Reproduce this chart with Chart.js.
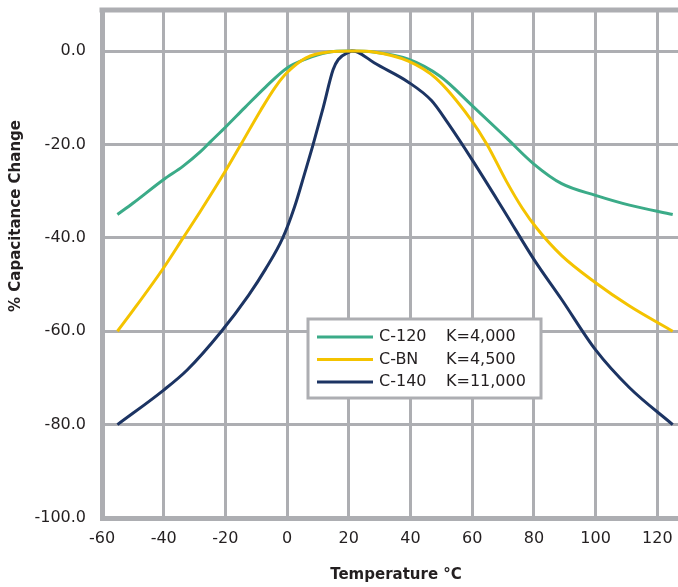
<!DOCTYPE html>
<html>
<head>
<meta charset="utf-8">
<script src="https://cdn.jsdelivr.net/npm/chart.js@4.4.1/dist/chart.umd.min.js"></script>
<style>
  html, body { margin: 0; padding: 0; background: #fff; overflow: hidden; }
  /* the plot runs off the right edge of the picture, like the original */
  #wrap { width: 678px; height: 587px; overflow: hidden; }
</style>
</head>
<body>
<div id="wrap"><canvas id="chart" width="690" height="587"></canvas></div>
<script>
// series labels
const seriesNames = ["C-120", "C-BN", "C-140"];
const seriesK = ["K=4,000", "K=4,500", "K=11,000"];

// C-120
const c120Temp = [-55, -50, -40, -33.8, -28, -24.8, -20, -13.7, -7, 0, 6, 13, 20, 28, 39.5, 49.6, 60.5, 71.1, 80, 89, 100, 111, 125];
const c120Change = [-35, -32.6, -27.5, -24.7, -21.5, -19.4, -16.3, -12.1, -7.7, -3.6, -1.7, -0.3, 0, -0.2, -1.8, -5.4, -12, -18.6, -24.2, -28.4, -30.9, -33, -35];

// C-BN
const cbnTemp = [-55, -50, -40, -33.7, -28, -20, -14.8, -8.5, -3.7, 0, 6, 13.5, 22, 28, 39.5, 48.2, 59.4, 64.8, 71.1, 76.2, 81, 89, 100, 111, 125];
const cbnChange = [-60, -55.6, -46.4, -40, -34.2, -25.7, -19.8, -12.6, -7.6, -4.6, -1.5, -0.2, 0, -0.2, -2.2, -5.8, -14.5, -20, -27.9, -33.6, -38, -43.8, -49.6, -54.6, -60];

// C-140
const c140Temp = [-55, -40, -32.4, -21.4, -12.5, -7, -1.4, 2.4, 5.6, 8.4, 11.7, 14.9, 16.6, 19.9, 21, 22.8, 28.2, 39.2, 46.8, 52.2, 60, 70.6, 80, 89, 100, 111, 125];
const c140Change = [-80, -72.6, -68.3, -60.1, -52.3, -46.7, -40, -33.4, -26.4, -20.1, -12.1, -4, -1.8, -0.3, 0, -0.2, -2.5, -6.6, -10.6, -15.5, -23.3, -34.5, -44.6, -53.2, -64, -72.1, -80];

// ticks
const xTicks = [-60, -40, -20, 0, 20, 40, 60, 80, 100, 120];
const yTicks = [0, -20, -40, -60, -80, -100];

const colors = ["#3bab88", "#f4c300", "#1c3463"];
const gridColor = "#adaeb2";
const textColor = "#231f20";
const FONT = "'DejaVu Sans', sans-serif";

const toPoints = (xs, ys) => xs.map((x, i) => ({ x: x, y: ys[i] }));

// top frame edge + legend box + rotated y title
const decorations = {
    id: "decorations",
    beforeDatasetsDraw(chart) {
        const { ctx, chartArea } = chart;
        ctx.save();
        ctx.strokeStyle = gridColor;
        ctx.lineWidth = 5;
        ctx.beginPath();
        ctx.moveTo(chartArea.left - 2.5, chartArea.top);
        ctx.lineTo(chartArea.right, chartArea.top);
        ctx.stroke();
        ctx.restore();
    },
    afterDatasetsDraw(chart) {
        const { ctx, chartArea } = chart;
        const bx = chartArea.left + 206, by = chartArea.top + 309;
        ctx.save();
        ctx.fillStyle = "#fff";
        ctx.fillRect(bx, by, 233, 79);
        ctx.strokeStyle = gridColor;
        ctx.lineWidth = 3;
        ctx.strokeRect(bx, by, 233, 79);
        ctx.font = "16px " + FONT;
        ctx.textBaseline = "middle";
        seriesNames.forEach((name, i) => {
            const y = by + 18 + i * 22.5;
            ctx.strokeStyle = colors[i];
            ctx.lineWidth = 3;
            ctx.beginPath();
            ctx.moveTo(bx + 9, y);
            ctx.lineTo(bx + 65, y);
            ctx.stroke();
            ctx.fillStyle = textColor;
            ctx.fillText(name, bx + 71, y);
            ctx.fillText(seriesK[i], bx + 138, y);
        });
        ctx.restore();
    },
    afterDraw(chart) {
        const { ctx } = chart;
        ctx.save();
        ctx.translate(16, 216);
        ctx.rotate(-Math.PI / 2);
        ctx.font = "bold 15px " + FONT;
        ctx.fillStyle = textColor;
        ctx.textAlign = "center";
        ctx.textBaseline = "middle";
        ctx.fillText("% Capacitance Change", 0, 0);
        ctx.restore();
    }
};

new Chart(document.getElementById("chart"), {
    type: "line",
    data: {
        datasets: [
            { label: seriesNames[0], data: toPoints(c120Temp, c120Change), borderColor: colors[0], order: 2 },
            { label: seriesNames[1], data: toPoints(cbnTemp, cbnChange), borderColor: colors[1], order: 0 },
            { label: seriesNames[2], data: toPoints(c140Temp, c140Change), borderColor: colors[2], order: 1 },
        ],
    },
    options: {
        responsive: false,
        animation: false,
        devicePixelRatio: 1,
        layout: { padding: { top: 10, right: 0, left: 0, bottom: 0 } },
        elements: {
            point: { radius: 0 },
            line: { borderWidth: 3, cubicInterpolationMode: "monotone", fill: false },
        },
        plugins: {
            legend: { display: false },
            tooltip: { enabled: false },
        },
        scales: {
            x: {
                type: "linear",
                min: -60,
                max: 130.6,
                afterFit: (scale) => {
                    scale.height = 69;
                    scale.paddingLeft = 0;
                    scale.paddingRight = 0;
                },
                afterBuildTicks: (scale) => { scale.ticks = xTicks.map((v) => ({ value: v })); },
                grid: { color: gridColor, lineWidth: 3, drawTicks: false },
                border: { color: gridColor, width: 5 },
                ticks: {
                    includeBounds: false,
                    padding: 11,
                    color: textColor,
                    font: { family: FONT, size: 16 },
                    maxRotation: 0,
                },
                title: {
                    display: true,
                    text: "Temperature °C",
                    color: textColor,
                    font: { family: FONT, size: 15, weight: "bold" },
                    padding: { top: 0, bottom: 3 },
                },
            },
            y: {
                min: -100,
                max: 8.8,
                afterFit: (scale) => {
                    scale.width = 102;
                    scale.paddingTop = 0;
                    scale.paddingBottom = 0;
                },
                afterBuildTicks: (scale) => { scale.ticks = yTicks.map((v) => ({ value: v })); },
                grid: { color: gridColor, lineWidth: 3, drawTicks: false },
                border: { color: gridColor, width: 5 },
                ticks: {
                    includeBounds: false,
                    padding: 16,
                    color: textColor,
                    font: { family: FONT, size: 16 },
                    callback: (v) => v.toFixed(1),
                },
            },
        },
    },
    plugins: [decorations],
});
</script>
</body>
</html>
